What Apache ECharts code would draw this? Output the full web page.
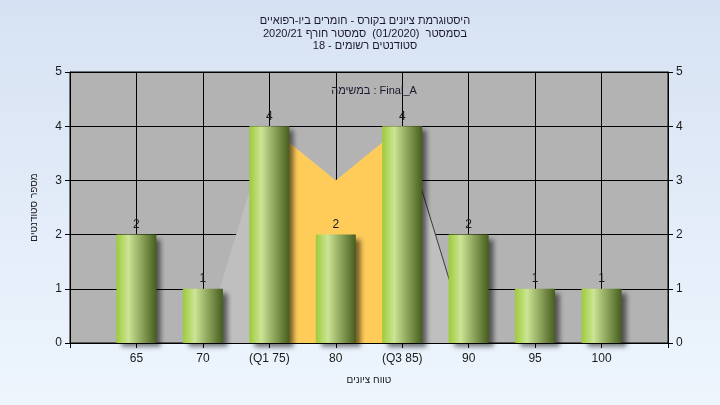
<!DOCTYPE html>
<html>
<head>
<meta charset="utf-8">
<script src="https://cdn.jsdelivr.net/npm/echarts@6/dist/echarts.min.js"></script>
<style>
html,body{margin:0;padding:0;}
#chart{width:720px;height:405px;}
</style>
</head>
<body>
<div id="chart"></div>
<script>
// Category axis: grade bins (with empty padding slots at both ends)
const categories = ['', '65', '70', '(Q1 75)', '80', '(Q3 85)', '90', '95', '100', ''];
// Number of students per grade bin
const counts = [null, 2, 1, 4, 2, 4, 2, 1, 1, null];
// Distribution envelope (light grey area)
const spreadEnvelope = [null, null, 0, 4, 3, 4, 0, null, null, null];
// Inter-quartile box (orange area)
const iqrBox = [null, null, null, 4, 3, 4, null, null, null, null];
// Upper whisker edge (dark line)
const upperEdge = [null, null, null, null, null, 4, 0, null, null, null];
// Y axis ticks
const yMin = 0, yMax = 5, yStep = 1;

const titleLines = [
  'היסטוגרמת ציונים בקורס - חומרים ביו-רפואיים',
  'בסמסטר  (01/2020)  סמסטר חורף 2020/21',
  'סטודנטים רשומים - 18'
];
const innerTitle = 'במשימה : Final_A';
const xName = 'טווח ציונים';
const yName = 'מספר סטודנטים';

const FONT = "'Liberation Sans', Arial, 'DejaVu Sans', sans-serif";
const TXT = '#1a1a1a';

const chart = echarts.init(document.getElementById('chart'), null, {renderer: 'canvas'});

const barGradient = new echarts.graphic.LinearGradient(0, 0, 1, 0, [
  {offset: 0, color: '#9dcb3a'},
  {offset: 0.3, color: '#cce495'},
  {offset: 0.62, color: '#8ea65c'},
  {offset: 1, color: '#465d1e'}
]);

const option = {
  animation: false,
  backgroundColor: new echarts.graphic.LinearGradient(0, 0, 0, 1, [
    {offset: 0, color: '#d6e2f3'},
    {offset: 1, color: '#eef5fd'}
  ]),
  textStyle: {fontFamily: FONT},
  title: [
    {
      text: titleLines.join('\n'),
      left: 360, textAlign: 'center', top: 10,
      textStyle: {fontSize: 11, fontWeight: 'normal', color: '#1c1830', lineHeight: 12.5, fontFamily: FONT}
    },
    {
      text: innerTitle,
      left: 369, textAlign: 'center', top: 80,
      textStyle: {fontSize: 11, fontWeight: 'normal', color: '#1c1830', fontFamily: FONT}
    }
  ],
  grid: {
    left: 70, right: 52, top: 72, bottom: 62,
    show: true, backgroundColor: '#b3b3b3', borderColor: '#000', borderWidth: 1
  },
  xAxis: {
    type: 'category',
    data: categories,
    boundaryGap: false,
    name: xName,
    nameLocation: 'middle',
    nameGap: 32,
    nameTextStyle: {fontSize: 10, color: TXT, fontFamily: FONT},
    axisLine: {lineStyle: {color: '#000', width: 1}},
    axisTick: {show: true, length: 5, lineStyle: {color: '#000'}, interval: 0},
    axisLabel: {fontSize: 12, color: TXT, margin: 10, interval: 0, fontFamily: FONT},
    splitLine: {show: true, interval: 0, lineStyle: {color: '#000', width: 1}}
  },
  yAxis: [
    {
      type: 'value', min: yMin, max: yMax, interval: yStep,
      position: 'left',
      name: yName,
      nameLocation: 'middle',
      nameGap: 31,
      nameTextStyle: {fontSize: 10, color: TXT, fontFamily: FONT},
      axisLine: {show: true, lineStyle: {color: '#000', width: 1}},
      axisTick: {show: true, length: 5, lineStyle: {color: '#000'}},
      axisLabel: {fontSize: 12, color: TXT, margin: 8, fontFamily: FONT},
      splitLine: {show: true, lineStyle: {color: '#000', width: 1}}
    },
    {
      type: 'value', min: yMin, max: yMax, interval: yStep,
      position: 'right',
      axisLine: {show: true, lineStyle: {color: '#000', width: 1}},
      axisTick: {show: true, length: 5, lineStyle: {color: '#000'}},
      axisLabel: {fontSize: 12, color: TXT, margin: 8, fontFamily: FONT},
      splitLine: {show: false}
    }
  ],
  series: [
    {
      type: 'line', data: spreadEnvelope, symbol: 'none', silent: true, z: 1,
      lineStyle: {width: 0, color: '#c0c0c0'},
      areaStyle: {color: '#bfbfbf', opacity: 1}
    },
    {
      type: 'line', data: iqrBox, symbol: 'none', silent: true, z: 1,
      lineStyle: {width: 0, color: '#ffcc5a'},
      areaStyle: {color: '#ffcc5a', opacity: 1}
    },
    {
      type: 'line', data: upperEdge, symbol: 'none', silent: true, z: 1,
      lineStyle: {width: 1, color: '#3a3a3a'}
    },
    {
      type: 'bar', data: counts, barWidth: 40, z: 5,
      itemStyle: {
        color: barGradient,
        shadowColor: 'rgba(0,0,0,0.55)',
        shadowBlur: 5,
        shadowOffsetX: 5,
        shadowOffsetY: 4
      },
      label: {
        show: true, position: 'top', distance: 4,
        fontSize: 12, color: TXT, fontFamily: FONT
      }
    }
  ]
};

chart.setOption(option);
</script>
</body>
</html>
